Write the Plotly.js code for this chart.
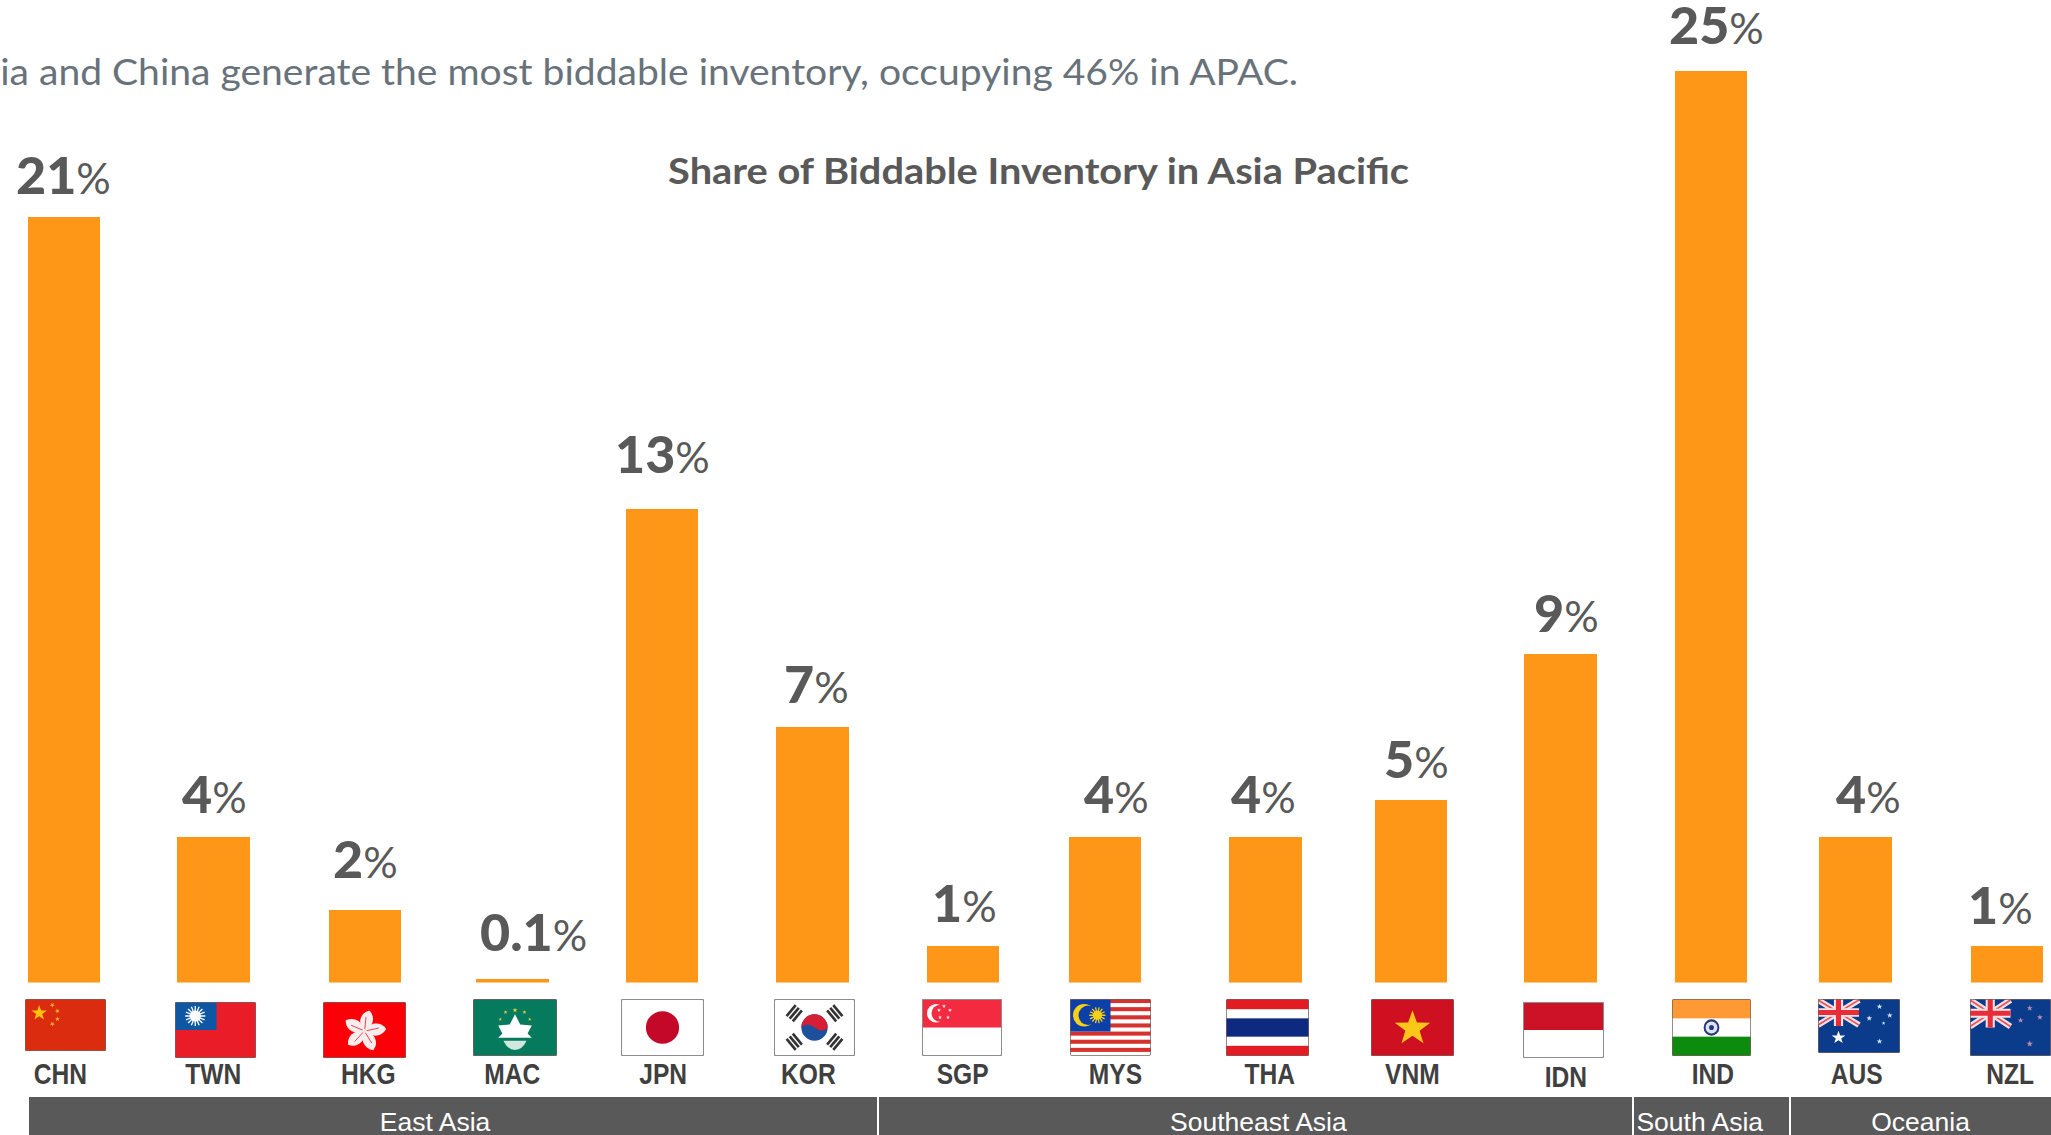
<!DOCTYPE html>
<html>
<head>
<meta charset="utf-8">
<script src="https://cdn.plot.ly/plotly-3.0.1.min.js"></script>
<style>html,body{margin:0;padding:0;background:#fff;overflow:hidden}#chart{width:2051px;height:1135px}text{font-variant-ligatures:none}</style>
</head>
<body>
<div id="chart"></div>
<script>
// ---- chart data ----
const categories = ["CHN","TWN","HKG","MAC","JPN","KOR","SGP","MYS","THA","VNM","IDN","IND","AUS","NZL"];
const values = [21,4,2,0.1,13,7,1,4,4,5,9,25,4,1];
const valueLabels = ["21","4","2","0.1","13","7","1","4","4","5","9","25","4","1"];
const regions = ["East Asia","Southeast Asia","South Asia","Oceania"];
const titleText = "Share of Biddable Inventory in Asia Pacific";
const subtitleText = "ia and China generate the most biddable inventory, occupying 46% in APAC.";

// ---- layout constants (pixels of the 2051x1135 canvas) ----
const W = 2051, H = 1135;
const px = v => v / W, py = v => 1 - v / H;
const firstC = 64, lastC = 2007, unit = (lastC - firstC) / 13;
const baseY = 982.5, pxPerValue = 36.46;
const barW = 72.5 / unit;
// small nudges of real bar centres from the even category spacing (px)
const barNudge = [0,0,2,0,0,1,2,-5,6,2,2,3,-2,0];
const labelShift = [-1,1,1,21,1,4,2,11,-2,5,6,5,13,-7];
const labelDY = [-4,-3,5,1,9,-3,-3,-3,-3,-5,-5,0,-3,-5];
const codeX = [60.5,213,368,512.4,663,808,962,1115,1270,1412.5,1566,1712.5,1856,2010];
const codeDY = [0,0,0,0,0,0,0,0,0,0,3,0,0,0];
const flagBox = [[25,106,999,1051],[175,256,1002,1058],[323,406,1002,1058],[473,557,999,1056],
 [621,704,999,1056],[774,855,999,1056],[922,1002,999,1056],[1070,1151,999,1056],[1226,1309,999,1056],
 [1371,1454,999,1056],[1523,1604,1002,1058],[1672,1751,999,1056],[1818,1900,999,1053],[1970,2051,999,1056]];
const bandBox = [[29,877],[879,1632],[1634,1789],[1791,2051]];
const bandTextX = [435,1258,1700,1920];

// ---- flag artwork ----
function star(cx,cy,r,rot,fill){let p=[];for(let i=0;i<10;i++){const a=(rot||0)-Math.PI/2+i*Math.PI/5,q=i%2?r*0.4:r;p.push((cx+q*Math.cos(a)).toFixed(2)+','+(cy+q*Math.sin(a)).toFixed(2));}return `<polygon points="${p.join(' ')}" fill="${fill}"/>`;}
function sun(cx,cy,r,n,fill){let s='';for(let i=0;i<n;i++){const a=i*2*Math.PI/n;s+=`<line x1="${cx}" y1="${cy}" x2="${cx+r*Math.cos(a)}" y2="${cy+r*Math.sin(a)}" stroke="${fill}" stroke-width="1.3"/>`;}return s+`<circle cx="${cx}" cy="${cy}" r="${r*0.55}" fill="${fill}"/>`;}
function uj(){return `<rect width="40" height="28" fill="#0b3c8c"/><path d="M0 1 L40 27 M40 1 L0 27" stroke="#f3dfe2" stroke-width="6"/><path d="M0 1 L40 27 M40 1 L0 27" stroke="#e8505a" stroke-width="1.6"/><path d="M20 0V28M0 14H40" stroke="#f4e6e6" stroke-width="9"/><path d="M20 0V28M0 14H40" stroke="#ea2c38" stroke-width="5"/>`;}
function trigram(cx,cy,ang){let s=`<g transform="translate(${cx} ${cy}) rotate(${ang})">`;for(const d of [-4,0,4])s+=`<rect x="-7" y="${d-1.3}" width="14" height="2.6" fill="#333"/>`;return s+'</g>';}
const art = {
 CHN:`<rect width="80" height="52" fill="#dc2c10"/>`+star(14,14,8,0,'#fdc20d')+star(27,6,2.6,.5,'#f5b32a')+star(32,12,2.6,.9,'#f5b32a')+star(32,20,2.6,0,'#f5b32a')+star(27,25,2.6,.5,'#f5b32a'),
 TWN:`<rect width="80" height="56" fill="#ea1c28"/><rect width="41" height="28" fill="#0d57a4"/>`+sun(20,14,10,16,'#fff'),
 HKG:`<rect width="80" height="56" fill="#fb0006"/>`+[0,72,144,216,288].map(a=>`<g transform="rotate(${a+10} 40 29)"><path d="M40 29 C32 24 32 12 41 8 C49 14 47 24 40 29Z" fill="#f8ecec"/><path d="M40 27 L39 15" stroke="#e03040" stroke-width=".8"/></g>`).join(''),
 MAC:`<rect width="80" height="56" fill="#067a5c"/><path d="M40 15 L45 25 L56 26 L52 34 L56 38 L24 38 L28 34 L24 26 L35 25Z" fill="#fff"/><path d="M29 41 H51 Q47 50 40 50 Q33 50 29 41Z" fill="#cfe7de"/>`+star(40,11,2.5,0,'#e8c94a')+star(31,13,2,0,'#e8c94a')+star(49,13,2,0,'#e8c94a')+star(26,20,1.8,0,'#e8c94a')+star(54,20,1.8,0,'#e8c94a'),
 JPN:`<rect width="80" height="56" fill="#fff"/><circle cx="40" cy="28" r="16" fill="#c3082a"/>`,
 KOR:`<rect width="80" height="56" fill="#fff"/>`+trigram(20,14,-50)+trigram(60,14,50)+trigram(20,42,50)+trigram(60,42,-50)+`<circle cx="40" cy="28" r="13" fill="#1c4f9c"/><path d="M27 28 A13 13 0 0 1 53 28 Q48 34 40 28 Q33 22 27 28Z" fill="#d61f34"/>`,
 SGP:`<rect width="80" height="56" fill="#fff"/><rect width="80" height="28" fill="#f42a41"/><circle cx="14" cy="14" r="9" fill="#fff"/><circle cx="18" cy="14" r="8.4" fill="#f42a41"/>`+[[22,7],[28,11],[26,18],[18,18],[17,11]].map(c=>star(c[0],c[1],2,0,'#fff')).join(''),
 MYS:`<rect width="80" height="56" fill="#fff"/>`+[0,8,16,24,32,40,48].map(y=>`<rect y="${y}" width="80" height="4" fill="#d5322e"/>`).join('')+`<rect width="40" height="32" fill="#0c3fa8"/><circle cx="14" cy="16" r="11" fill="#f6d118"/><circle cx="18" cy="16" r="9.6" fill="#0c3fa8"/>`+sun(27,16,8,14,'#f6d118'),
 THA:`<rect width="80" height="56" fill="#e31b23"/><rect y="10" width="80" height="36" fill="#fff"/><rect y="19" width="80" height="18" fill="#0d2a80"/>`,
 VNM:`<rect width="80" height="56" fill="#cf1021"/>`+star(40,29,18,0,'#fcc719'),
 IDN:`<rect width="80" height="56" fill="#fff"/><rect width="80" height="28" fill="#cd1227"/>`,
 IND:`<rect width="80" height="56" fill="#fff"/><rect width="80" height="19" fill="#ff9933"/><rect y="37" width="80" height="19" fill="#0e8a0e"/><circle cx="40" cy="28" r="7" fill="#dfe3f0" stroke="#243a7c" stroke-width="2"/><circle cx="40" cy="28" r="2.5" fill="#243a7c"/>`,
 AUS:`<rect width="80" height="56" fill="#0b3c8c"/>`+uj()+star(20,40,7,0,'#fff')+star(60,8,3,0,'#cfe3f5')+star(50,20,3,0,'#cfe3f5')+star(70,17,3,0,'#cfe3f5')+star(64,25,2,0,'#cfe3f5')+star(60,44,3,0,'#cfe3f5'),
 NZL:`<rect width="80" height="56" fill="#0b3c8c"/>`+uj()+star(59,9,3,0,'#b98bb0')+star(50,21,3,0,'#b98bb0')+star(69,18,3,0,'#b98bb0')+star(59,44,3.4,0,'#b98bb0')
};
function flagImg(code,i){
  const b=flagBox[i], vbH = code==='CHN'?52:56, light=['JPN','KOR','SGP','IDN'].includes(code);
  const svg=`<svg xmlns="http://www.w3.org/2000/svg" width="${(b[1]-b[0])*2}" height="${(b[3]-b[2])*2}" viewBox="0 0 80 ${vbH}" preserveAspectRatio="none"><defs><clipPath id="c"><rect width="80" height="${vbH}" rx="1.5"/></clipPath></defs><g clip-path="url(#c)">${art[code]}</g><rect x=".4" y=".4" width="79.2" height="${vbH-.8}" rx="1.5" fill="none" stroke="${light?'#8c8c8c':'#77605c'}" stroke-width="${light?1.2:.8}"/></svg>`;
  return {source:'data:image/svg+xml;charset=utf-8,'+encodeURIComponent(svg),xref:'paper',yref:'paper',xanchor:'left',yanchor:'top',
    x:px(b[0]),y:py(b[2]),sizex:(b[1]-b[0])/W,sizey:(b[3]-b[2])/H,sizing:'stretch',layer:'above'};
}

const GREY='#595959';
const annotations=[], stretch=[];
function addAnn(a,sx,origin){ annotations.push(a); stretch.push(sx?{sx,origin}:null); }
categories.forEach((c,i)=>{
  addAnn({x:c,y:values[i],xref:'x',yref:'y',xanchor:'center',yanchor:'bottom',xshift:barNudge[i]+labelShift[i],yshift:14+labelDY[i],showarrow:false,
    text:`<span style="font-weight:900">${valueLabels[i]}</span><span style="font-size:43px">%</span>`,font:{family:'Lato',size:52,color:GREY}});
  addAnn({x:px(codeX[i]),y:py(1073+codeDY[i]),xref:'paper',yref:'paper',xanchor:'center',yanchor:'middle',showarrow:false,
    text:`<b>${c}</b>`,font:{family:'Liberation Sans',size:30,color:'#404040'}},0.82,'center');
});
regions.forEach((r,i)=>addAnn({x:px(bandTextX[i]),y:py(1122),xref:'paper',yref:'paper',xanchor:'center',yanchor:'middle',showarrow:false,
  text:r,font:{family:'Liberation Sans',size:25,color:'#ffffff'}},1.06,'center'));
addAnn({x:px(666),y:py(169.5),xref:'paper',yref:'paper',xanchor:'left',yanchor:'middle',showarrow:false,
  text:`<b>${titleText}</b>`,font:{family:'Lato',size:36,color:GREY}},1.105,'left');
addAnn({x:px(0),y:py(71),xref:'paper',yref:'paper',xanchor:'left',yanchor:'middle',showarrow:false,xshift:-2,
  text:subtitleText,font:{family:'Lato',size:36,color:'#68727b'}},1.085,'left');

const shapes=bandBox.map(b=>({type:'rect',xref:'paper',yref:'paper',x0:px(b[0]),x1:px(b[1]),y0:0,y1:py(1097),fillcolor:GREY,line:{width:0},layer:'below'}));

const trace={type:'bar',x:categories,y:values,width:barW,
  offset:barNudge.map(n=>n/unit-barW/2),marker:{color:'#FE9618',line:{width:0}},hoverinfo:'x+y',cliponaxis:false};

const layout={width:W,height:H,margin:{l:0,r:0,t:0,b:0,pad:0},paper_bgcolor:'#fff',plot_bgcolor:'#fff',showlegend:false,bargap:0,
  xaxis:{type:'category',categoryorder:'array',categoryarray:categories,range:[-firstC/unit,(W-firstC)/unit],showticklabels:false,showgrid:false,zeroline:false,ticks:'',showline:false,fixedrange:true},
  yaxis:{domain:[(H-baseY)/H,1],range:[0,baseY/pxPerValue],showticklabels:false,showgrid:false,zeroline:false,ticks:'',showline:false,fixedrange:true},
  annotations,shapes,images:categories.map(flagImg)};
Plotly.newPlot('chart',[trace],layout,{displayModeBar:false,responsive:false}).then(gd=>{
  gd.querySelectorAll('g.annotation').forEach(g=>{
    const s=stretch[+g.getAttribute('data-index')];
    const t=g.querySelector('text.annotation-text');
    if(!s||!t) return;
    t.style.transformBox='fill-box';
    t.style.transformOrigin=s.origin;
    t.style.transform=`scaleX(${s.sx})`;
  });
});
</script>
</body>
</html>
